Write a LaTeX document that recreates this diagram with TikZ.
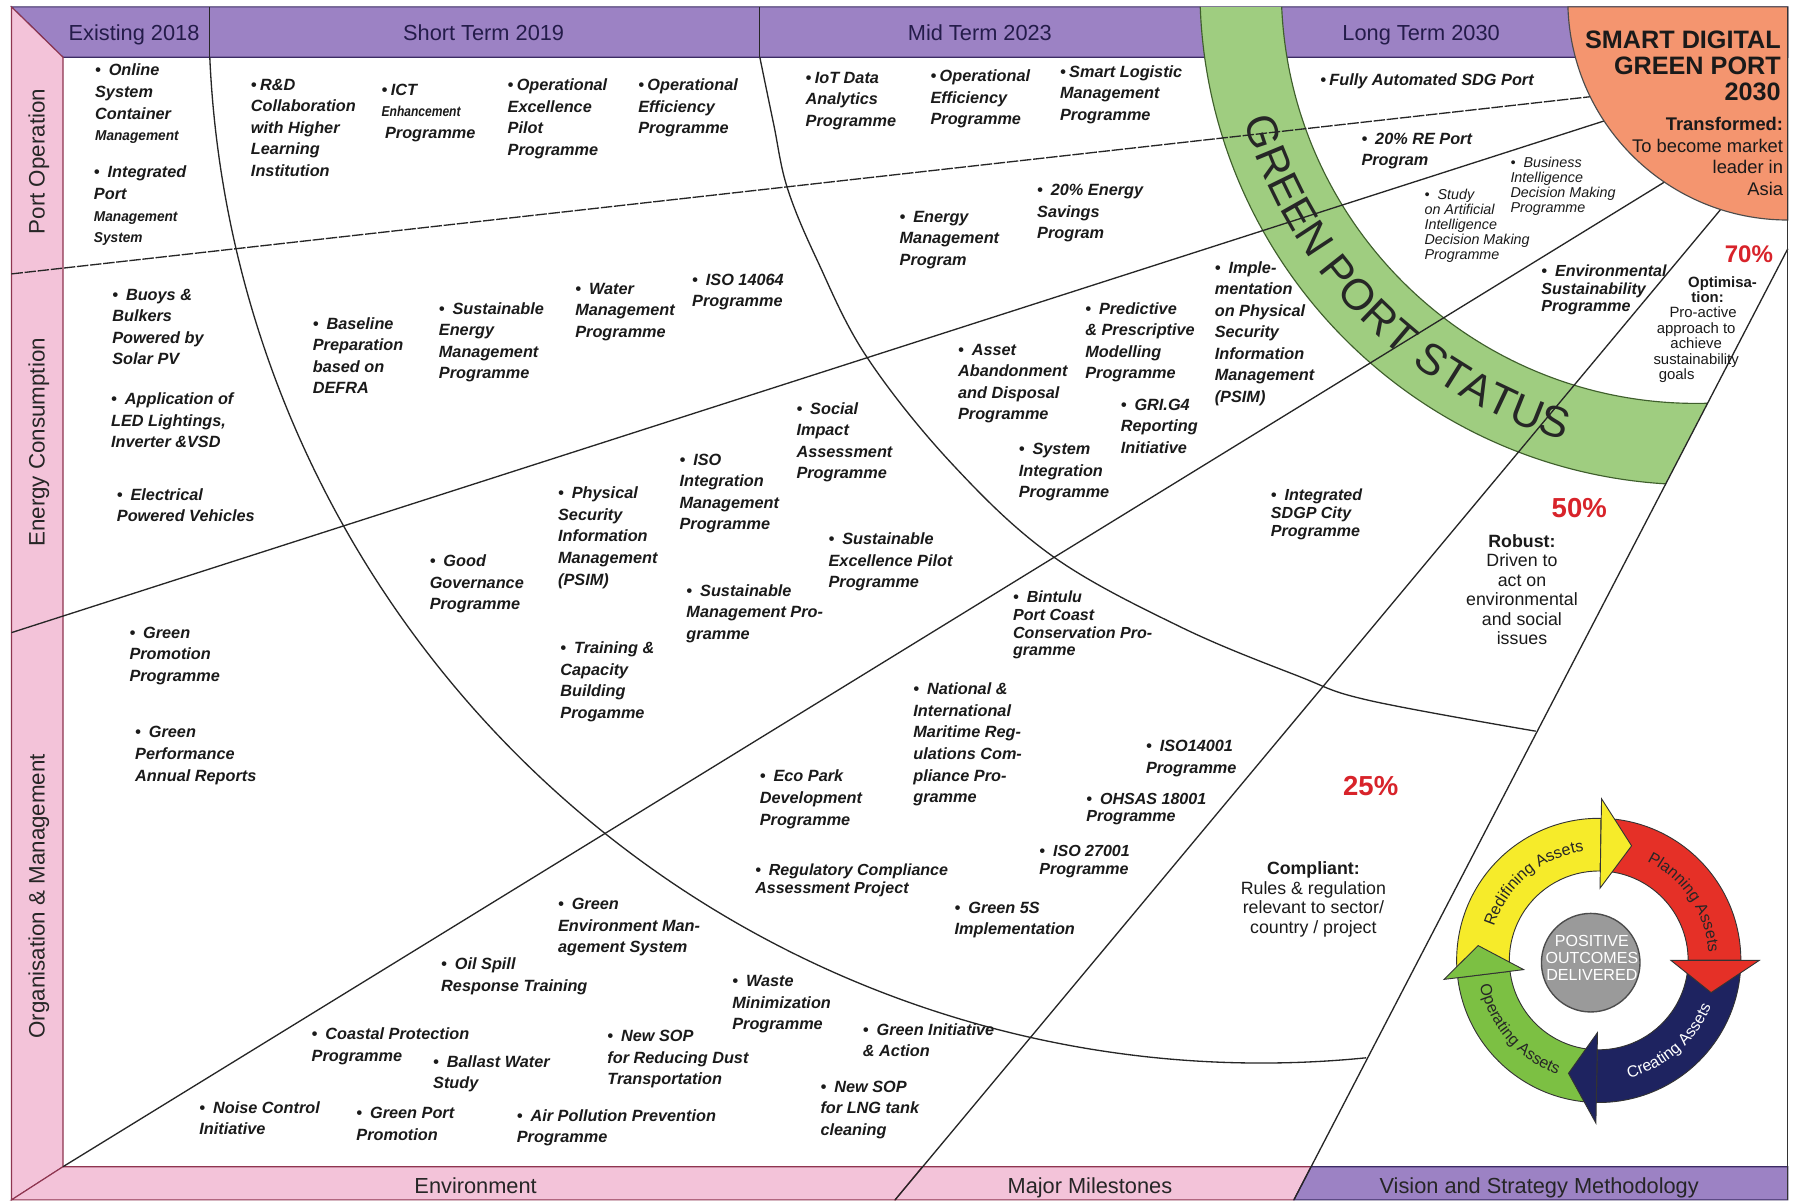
\documentclass[tikz,border=0pt]{standalone}
\usepackage{fontspec}
\setmainfont{Liberation Sans}
\usepackage{graphicx}
\usetikzlibrary{decorations.text}
\definecolor{hdrpurple}{HTML}{9C82C4}
\definecolor{hdrdark}{HTML}{3B2B63}
\definecolor{hdrtext}{HTML}{241C4A}
\definecolor{strippink}{HTML}{F3C3D9}
\definecolor{stripline}{HTML}{8E3550}
\definecolor{sidetext}{HTML}{262626}
\definecolor{orangec}{HTML}{F4956F}
\definecolor{bandgreen}{HTML}{9FCD80}
\definecolor{bandline}{HTML}{3F5F2C}
\definecolor{pctred}{HTML}{D8232A}
\definecolor{cyyellow}{HTML}{F6EB2A}
\definecolor{cyred}{HTML}{E53027}
\definecolor{cynavy}{HTML}{1E2360}
\definecolor{cygreen}{HTML}{7CC043}
\definecolor{cygray}{HTML}{9A9A9A}
\definecolor{cyedge}{HTML}{333333}
\definecolor{inkc}{HTML}{1A1A1A}
\newcommand{\cndA}[1]{\scalebox{0.84}[0.88]{#1}}
\newcommand{\cndB}[1]{\scalebox{0.74}[0.88]{#1}}
\newcommand{\itb}{\textbullet\hspace{7pt}}
\newcommand{\itn}{\textbullet\hspace{3pt}}
\tikzset{
 itm/.style={anchor=north west, align=left, inner sep=0pt, outer sep=0pt, text=inkc, font=\fontsize{14.2}{18.8}\selectfont\bfseries\itshape},
 itmt/.style={itm, font=\fontsize{14}{15.4}\selectfont\bfseries\itshape},
 itms/.style={itm, font=\fontsize{12.5}{13}\selectfont\itshape},
 hdr/.style={anchor=base, inner sep=0pt, text=hdrtext, font=\fontsize{19}{19}\selectfont},
 sidelbl/.style={anchor=base, rotate=90, inner sep=0pt, text=sidetext, font=\fontsize{19.5}{19.5}\selectfont},
 botlbl/.style={anchor=base, inner sep=0pt, text=sidetext, font=\fontsize{19}{19}\selectfont},
 pct/.style={inner sep=0pt, text=pctred, font=\fontsize{24}{24}\selectfont\bfseries},
 opt/.style={anchor=north, align=center, inner sep=0pt, text=inkc, font=\fontsize{13}{13.4}\selectfont},
 rob/.style={anchor=north, align=center, inner sep=0pt, text=inkc, font=\fontsize{15.5}{17}\selectfont},
 orgt/.style={anchor=north east, align=right, inner sep=0pt, text=inkc},
 divline/.style={draw=black!85, line width=1.15pt},
 hdrbox/.style={fill=hdrpurple, draw=hdrdark, line width=1pt},
 pinkbox/.style={fill=strippink, draw=stripline, line width=1pt},
 seg/.style={draw=cyedge, line width=0.8pt},
 ringtxt/.style={decorate, decoration={text along path, text align=center, text color=#1}},
}
\begin{document}
\begin{tikzpicture}[x=1pt,y=1pt]
\useasboundingbox (0,0) rectangle (1568,-1049);
\fill[white] (0,0) rectangle (1568,-1049);
% frame bands
\path[hdrbox] (10,-6) -- (1560,-6) -- (1560,-50) -- (55,-50) -- cycle;
\path[pinkbox] (10,-6) -- (55,-50) -- (55,-1018) -- (10,-1047) -- cycle;
\path[pinkbox] (10,-1047) -- (55,-1018) -- (805,-1018) -- (781,-1047) -- cycle;
\path[pinkbox] (781,-1047) -- (805,-1018) -- (1144,-1018) -- (1129,-1047) -- cycle;
\path[hdrbox] (1129,-1047) -- (1144,-1018) -- (1560,-1018) -- (1560,-1047) -- cycle;
% green band
\begin{scope}
\clip (10,-6) -- (1560,-6) -- (1560,-217) -- (1129,-1047) -- (10,-1047) -- cycle;
\filldraw[fill=bandgreen, draw=bandline, line width=1pt, even odd rule] (1480,10) circle[radius=433] (1480,10) circle[radius=362];
\end{scope}
\path[decorate, decoration={text along path, text={|\fontsize{38}{38}\selectfont|GREEN PORT STATUS}, text align=center, text color=black!85}] ([shift={(1480,10)}]186:411) arc[start angle=186, end angle=264, radius=411];
% header dividers
\draw[divline] (183,-6) -- (183,-50);
\draw[divline] (663,-6) -- (663,-50);
% straight lines
\coordinate (l1a) at (10,-239);  \coordinate (l1b) at (1400,-83);
\coordinate (l2a) at (10,-552);  \coordinate (l2b) at (1420,-99);
\coordinate (l3a) at (55,-1018); \coordinate (l3b) at (1470,-148);
\coordinate (rba) at (781,-1047); \coordinate (rbb) at (1512,-170);
\coordinate (rca) at (1129,-1047); \coordinate (rcb) at (1560,-217);
\draw[divline, dash pattern=on 10pt off 1.5pt] (l1a) -- (l1b);
\draw[divline] (l2a) -- (l2b);
\draw[divline] (l3a) -- (l3b);
\draw[divline] (rba) -- (rbb);
\draw[divline] (rca) -- (rcb);
% arcs
\draw[divline] ([shift={(1100.5,-9.2)}]182.55:918.4) arc[start angle=182.55, end angle=275.72, radius=918.4];
\draw[divline] plot[smooth, tension=0.6] coordinates {(663,-50) (675,-108) (687,-164) (713,-227) (756,-311) (830,-404) (918,-485) (1030,-547) (1133,-590) (1194,-611) (1340,-638)};
% orange quarter
\filldraw[fill=orangec, draw=black!70, line width=1pt] (1560,-6) -- (1368.1,-6) arc[start angle=181.8, end angle=270, radius=192] -- cycle;
\draw[line width=1pt, draw=black!80] (1560,-6) -- (1560,-1047);
% header labels
\node[hdr] (h1) at (117,-35) {Existing 2018};
\node[hdr] (h2) at (422,-35) {Short Term 2019};
\node[hdr] (h3) at (855,-35) {Mid Term 2023};
\node[hdr] (h4) at (1240,-35) {Long Term 2030};
\node[sidelbl] (s1) at (39,-141) {Port Operation};
\node[sidelbl] (s2) at (39,-386) {Energy Consumption};
\node[sidelbl] (s3) at (39,-782) {Organisation \& Management};
\node[botlbl] (b1) at (415,-1041) {Environment};
\node[botlbl] (b2) at (951,-1041) {Major Milestones};
\node[botlbl] (b3) at (1343,-1041) {Vision and Strategy Methodology};
% orange text
\node[orgt, font=\fontsize{22}{22.5}\selectfont\bfseries] (sdgp) at (1554,-27) {SMART DIGITAL\\GREEN PORT\\2030};
\node[orgt, font=\fontsize{16}{19}\selectfont] (trf) at (1556,-102) {\textbf{Transformed:}\\To become market\\leader in\\Asia};
% items
\node[itm] (i1) at (83,-56) {\itb Online\\System\\Container\\\cndA{Management}};
\node[itm] (i2) at (82,-145) {\itb Integrated\\Port\\\cndA{Management}\\\cndA{System}};
\node[itm] (i3) at (219,-69) {\itn R\&D\\Collaboration\\with Higher\\Learning\\Institution};
\node[itm] (i4) at (333,-73) {\itn ICT\\\cndB{Enhancement}\\\hspace*{3pt}Programme};
\node[itm] (i5) at (443,-69) {\itn Operational\\Excellence\\Pilot\\Programme};
\node[itm] (i6) at (557,-69) {\itn Operational\\Efficiency\\Programme};
\node[itm] (i7) at (703,-63) {\itn IoT Data\\Analytics\\Programme};
\node[itm] (i8) at (812,-61) {\itn Operational\\Efficiency\\Programme};
\node[itm] (i9) at (925,-57) {\itn Smart Logistic\\Management\\Programme};
\node[itm] (i10) at (1152,-64) {\itn Fully Automated SDG Port};
\node[itm] (i11) at (1188,-116) {\itb 20\% RE Port\\Program};
\node[itms] (i12) at (1243,-165) {\itb Study\\on Artificial\\Intelligence\\Decision Making\\Programme};
\node[itms] (i13) at (1318,-137) {\itb Business\\Intelligence\\Decision Making\\Programme};
\node[itm] (i14) at (905,-161) {\itb 20\% Energy\\Savings\\Program};
\node[itm] (i15) at (785,-184) {\itb Energy\\Management\\Program};
\node[itm] (i16) at (98,-252) {\itb Buoys \&\\Bulkers\\Powered by\\Solar PV};
\node[itm] (i17) at (97,-343) {\itb Application of\\LED Lightings,\\Inverter \&VSD};
\node[itm] (i18) at (102,-426) {\itb Electrical\\Powered Vehicles};
\node[itm] (i19) at (273,-277) {\itb Baseline\\Preparation\\based on\\DEFRA};
\node[itm] (i20) at (383,-264) {\itb Sustainable\\Energy\\Management\\Programme};
\node[itm] (i21) at (502,-247) {\itb Water\\Management\\Programme};
\node[itm] (i22) at (604,-239) {\itb ISO 14064\\Programme};
\node[itm] (i23) at (836,-300) {\itb Asset\\Abandonment\\and Disposal\\Programme};
\node[itm] (i24) at (947,-264) {\itb Predictive\\\& Prescriptive\\Modelling\\Programme};
\node[itm] (i25) at (1060,-228) {\itb Imple-\\mentation\\on Physical\\Security\\Information\\Management\\(PSIM)};
\node[itmt] (i26) at (1345,-231) {\itb Environmental\\Sustainability\\Programme};
\node[itm] (i27) at (978,-348) {\itb GRI.G4\\Reporting\\Initiative};
\node[itm] (i28) at (889,-387) {\itb System\\Integration\\Programme};
\node[itm] (i29) at (695,-351) {\itb Social\\Impact\\Assessment\\Programme};
\node[itm] (i30) at (593,-396) {\itb ISO\\Integration\\Management\\Programme};
\node[itm] (i31) at (487,-425) {\itb Physical\\Security\\Information\\Management\\(PSIM)};
\node[itm] (i32) at (723,-465) {\itb Sustainable\\Excellence Pilot\\Programme};
\node[itm] (i33) at (375,-484) {\itb Good\\Governance\\Programme};
\node[itm] (i34) at (599,-510) {\itb Sustainable\\Management Pro-\\gramme};
\node[itmt] (i35) at (1109,-427) {\itb Integrated\\SDGP City\\Programme};
\node[itm] (i36) at (113,-547) {\itb Green\\Promotion\\Programme};
\node[itm] (i37) at (118,-634) {\itb Green\\Performance\\Annual Reports};
\node[itm] (i38) at (489,-560) {\itb Training \&\\Capacity\\Building\\Progamme};
\node[itmt] (i39) at (884,-516) {\itb Bintulu\\Port Coast\\Conservation Pro-\\gramme};
\node[itm] (i40) at (797,-596) {\itb National \&\\International\\Maritime Reg-\\ulations Com-\\pliance Pro-\\gramme};
\node[itm] (i41) at (1000,-646) {\itb ISO14001\\Programme};
\node[itmt] (i42) at (948,-692) {\itb OHSAS 18001\\Programme};
\node[itm] (i43) at (663,-672) {\itb Eco Park\\Development\\Programme};
\node[itmt] (i44) at (907,-738) {\itb ISO 27001\\Programme};
\node[itmt] (i45) at (659,-754) {\itb Regulatory Compliance\\Assessment Project};
\node[itm] (i46) at (833,-787) {\itb Green 5S\\Implementation};
\node[itm] (i47) at (487,-784) {\itb Green\\Environment Man-\\agement System};
\node[itm] (i48) at (385,-836) {\itb Oil Spill\\Response Training};
\node[itm] (i49) at (639,-851) {\itb Waste\\Minimization\\Programme};
\node[itm] (i50) at (753,-893) {\itb Green Initiative\\\& Action};
\node[itm] (i51) at (272,-897) {\itb Coastal Protection\\Programme};
\node[itm] (i52) at (378,-921) {\itb Ballast Water\\Study};
\node[itm] (i53) at (530,-899) {\itb New SOP\\for Reducing Dust\\Transportation};
\node[itm] (i54) at (716,-943) {\itb New SOP\\for LNG tank\\cleaning};
\node[itm] (i55) at (174,-961) {\itb Noise Control\\Initiative};
\node[itm] (i56) at (311,-966) {\itb Green Port\\Promotion};
\node[itm] (i57) at (451,-968) {\itb Air Pollution Prevention\\Programme};
% right side texts
\node[pct, font=\fontsize{21}{21}\selectfont\bfseries] (p70) at (1526,-222) {70\%};
\node[opt] (optx) at (1480,-241) {\textbf{\hspace*{46pt}Optimisa-}\\\textbf{\hspace*{20pt}tion:}\\\hspace*{12pt}Pro-active\\approach to\hspace*{6pt}\\achieve\hspace*{24pt}\\sustainability\hspace*{40pt}\\goals\hspace*{34pt}};
\node[pct] (p50) at (1378,-443) {50\%};
\node[rob] (robx) at (1328,-466) {\textbf{Robust:}\\Driven to\\act on\\environmental\\and social\\issues};
\node[pct] (p25) at (1196,-686) {25\%};
\node[rob] (cmpx) at (1146,-752) {\textbf{Compliant:}\\Rules \& regulation\\relevant to sector/\\country / project};
% cycle graphic
\begin{scope}[shift={(1395,-838)}]
\filldraw[seg, fill=cyyellow] (187:124) arc[start angle=187, end angle=89, radius=124] -- (89:78) arc[start angle=89, end angle=187, radius=78] -- cycle;
\filldraw[seg, fill=cyred] (89:124) arc[start angle=89, end angle=0, radius=124] -- (0:78) arc[start angle=0, end angle=89, radius=78] -- cycle;
\filldraw[seg, fill=cynavy] (0:124) arc[start angle=0, end angle=-91, radius=124] -- (-91:78) arc[start angle=-91, end angle=0, radius=78] -- cycle;
\filldraw[seg, fill=cygreen] (-91:124) arc[start angle=-91, end angle=-173, radius=124] -- (-173:78) arc[start angle=-173, end angle=-91, radius=78] -- cycle;
\filldraw[seg, fill=cyyellow] (89:63) -- (89:141) -- (74:104) -- cycle;
\filldraw[seg, fill=cyred] (0:63) -- (0:140) -- (-16:102) -- cycle;
\filldraw[seg, fill=cynavy] (-91:63) -- (-91:142) -- (-105:102) -- cycle;
\filldraw[seg, fill=cygreen] (-173:66) -- (-173:136) -- (-187:106) -- cycle;
\path[ringtxt=black!85, decoration={text={|\fontsize{14}{14}\selectfont|Redifining Assets}}] (172:96) arc[start angle=172, end angle=88, radius=96];
\path[ringtxt=black!85, decoration={text={|\fontsize{14}{14}\selectfont|Planning Assets}}] (74:96) arc[start angle=74, end angle=-6, radius=96];
\path[ringtxt=white, decoration={text={|\fontsize{14}{14}\selectfont|Creating Assets}}] (-92:106) arc[start angle=-92, end angle=-6, radius=106];
\path[ringtxt=black!85, decoration={text={|\fontsize{14}{14}\selectfont|Operating Assets}}] (180:106) arc[start angle=180, end angle=262, radius=106];
\filldraw[fill=cygray, draw=black!70, line width=1.2pt] (-7,-2) circle[radius=43];
\node[align=center, inner sep=0pt, text=white, font=\fontsize{14}{15}\selectfont] (pod) at (-6,2) {POSITIVE\\OUTCOMES\\DELIVERED};
\end{scope}
\end{tikzpicture}
\end{document}
